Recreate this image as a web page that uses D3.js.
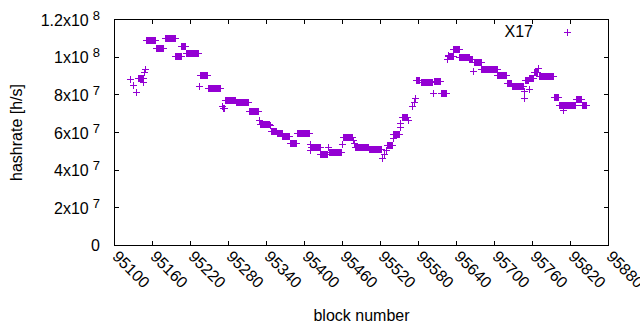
<!DOCTYPE html>
<html>
<head>
<meta charset="utf-8">
<script src="https://cdn.jsdelivr.net/npm/d3@7"></script>
<style>
  body { margin: 0; background: #fff; }
  svg text { font-family: "Liberation Sans", Arial, sans-serif; font-size: 16px; fill: #000; }
</style>
</head>
<body>
<svg id="main-svg"></svg>
<script>
// runs of blocks sharing the same hashrate estimate (units of 1e7 h/s)
const runFrom = [95126, 95130, 95135, 95138, 95146, 95148, 95149, 95151, 95166, 95180,
  95197, 95206, 95214, 95234, 95235, 95248, 95270, 95272, 95275, 95292,
  95313, 95329, 95331, 95347, 95348, 95357, 95366, 95378, 95389, 95409,
  95410, 95411, 95426, 95438, 95439, 95460, 95461, 95477, 95479, 95481,
  95502, 95523, 95526, 95529, 95531, 95540, 95541, 95551, 95552, 95554,
  95564, 95571, 95573, 95575, 95577, 95584, 95604, 95605, 95616, 95626,
  95627, 95628, 95636, 95645, 95661, 95667, 95669, 95680, 95705, 95720,
  95728, 95747, 95748, 95749, 95755, 95756, 95763, 95769, 95771, 95794,
  95802, 95809, 95812, 95830, 95839];
const runTo = [95126, 95130, 95135, 95145, 95146, 95148, 95149, 95164, 95178, 95196,
  95205, 95212, 95233, 95234, 95247, 95268, 95270, 95274, 95291, 95312,
  95327, 95329, 95345, 95347, 95356, 95365, 95377, 95388, 95408, 95409,
  95410, 95425, 95436, 95438, 95458, 95460, 95476, 95477, 95479, 95501,
  95522, 95523, 95526, 95529, 95539, 95540, 95550, 95551, 95552, 95563,
  95564, 95571, 95573, 95575, 95581, 95602, 95604, 95615, 95624, 95626,
  95627, 95635, 95644, 95660, 95666, 95667, 95679, 95704, 95719, 95727,
  95746, 95747, 95748, 95754, 95755, 95762, 95768, 95769, 95793, 95801,
  95811, 95809, 95828, 95838, 95846];
const runValue = [8.83, 8.50, 8.15, 8.86, 8.68, 9.19, 9.33, 10.89, 10.45, 11.01,
  10.02, 10.57, 10.20, 8.45, 9.03, 8.36, 7.39, 7.30, 7.71, 7.58,
  7.13, 6.62, 6.43, 6.38, 6.04, 5.93, 5.80, 5.39, 5.95, 5.35,
  5.05, 5.21, 4.81, 5.18, 4.93, 5.35, 5.74, 5.60, 5.40, 5.23,
  5.09, 4.63, 4.81, 5.07, 5.30, 5.69, 5.90, 6.25, 6.48, 6.80,
  6.66, 7.37, 7.58, 7.83, 8.78, 8.64, 8.08, 8.71, 8.08, 9.89,
  10.10, 10.04, 10.40, 9.99, 9.85, 9.24, 9.71, 9.36, 9.04, 8.61,
  8.46, 7.79, 8.18, 8.75, 8.29, 8.89, 9.17, 9.38, 8.96, 7.87,
  7.41, 7.16, 7.44, 7.76, 7.44];

const xTicks = d3.range(95100, 95881, 60);
const yTicks = [0, 2e7, 4e7, 6e7, 8e7, 1e8, 1.2e8];
const yTickText = ["0", "2x10", "4x10", "6x10", "8x10", "1x10", "1.2x10"];
const yTickSup = ["", "7", "7", "7", "7", "8", "8"];
const seriesName = "X17";

let width = 640, height = 330;
let plotLeft = 114.5, plotRight = 608.5, plotTop = 19.5, plotBottom = 245.5;
let color = "#9400d3";
let tickLen = 4.5;

let svg = d3.select('#main-svg').attr('width', width).attr('height', height);

let x = d3.scaleLinear().domain([95100, 95880]).range([plotLeft, plotRight]);
let y = d3.scaleLinear().domain([0, 1.2e8]).range([plotBottom, plotTop]);

let points = [];
runFrom.forEach(function (b0, i) {
  for (let b = b0; b <= runTo[i]; b++) {
    points.push({block: b, hashrate: runValue[i] * 1e7});
  }
});

function plus(cx, cy) {
  cx = Math.round(cx - 0.5) + 0.5;
  cy = Math.round(cy - 0.5) + 0.5;
  return `M${cx - 3.5},${cy}H${cx + 3.5}M${cx},${cy - 3.5}V${cy + 3.5}`;
}

// ticks, mirrored on all sides
let ticks = svg.append('g').attr('stroke', '#000').attr('stroke-width', 1);
xTicks.forEach(function (t) {
  let px = Math.round(x(t) - 0.5) + 0.5;
  ticks.append('line').attr('x1', px).attr('x2', px).attr('y1', plotBottom).attr('y2', plotBottom - tickLen);
  ticks.append('line').attr('x1', px).attr('x2', px).attr('y1', plotTop).attr('y2', plotTop + tickLen);
});
yTicks.forEach(function (t) {
  let py = Math.round(y(t) - 0.5) + 0.5;
  ticks.append('line').attr('y1', py).attr('y2', py).attr('x1', plotLeft).attr('x2', plotLeft + tickLen);
  ticks.append('line').attr('y1', py).attr('y2', py).attr('x1', plotRight).attr('x2', plotRight - tickLen);
});

// data
svg.append('g')
  .selectAll('path')
  .data(points)
  .enter()
  .append('path')
  .attr('d', d => plus(x(d.block), y(d.hashrate)))
  .attr('fill', 'none')
  .attr('stroke', color)
  .attr('stroke-width', 1);

svg.append('rect')
  .attr('x', plotLeft).attr('y', plotTop)
  .attr('width', plotRight - plotLeft).attr('height', plotBottom - plotTop)
  .attr('fill', 'none').attr('stroke', '#000').attr('stroke-width', 1);

// x tick labels, rotated
svg.append('g')
  .selectAll('text')
  .data(xTicks)
  .enter()
  .append('text')
  .attr('transform', d => `translate(${x(d) - 3},${plotBottom + 12}) rotate(45)`)
  .text(d => d);

// y tick labels with superscript exponents
let yLabels = svg.append('g')
  .selectAll('text')
  .data(yTicks)
  .enter()
  .append('text')
  .attr('text-anchor', 'end')
  .attr('x', 100)
  .attr('y', (d, i) => y(d) + (yTickSup[i] ? 6 : 5.5));
yLabels.append('tspan').text((d, i) => yTickText[i]);
yLabels.filter((d, i) => yTickSup[i] !== "")
  .append('tspan')
  .attr('dx', 4)
  .attr('dy', -6)
  .style('font-size', '13px')
  .text(d => yTickSup[yTicks.indexOf(d)]);

svg.append('text')
  .attr('text-anchor', 'middle')
  .attr('x', (plotLeft + plotRight) / 2)
  .attr('y', 321)
  .text('block number');

svg.append('text')
  .attr('text-anchor', 'middle')
  .attr('transform', `translate(22,${(plotTop + plotBottom) / 2}) rotate(-90)`)
  .text('hashrate [h/s]');

// legend
svg.append('text')
  .attr('text-anchor', 'end')
  .attr('x', 533)
  .attr('y', 37)
  .text(seriesName);
svg.append('path')
  .attr('d', plus(567, 32))
  .attr('fill', 'none')
  .attr('stroke', color)
  .attr('stroke-width', 1);
</script>
</body>
</html>
